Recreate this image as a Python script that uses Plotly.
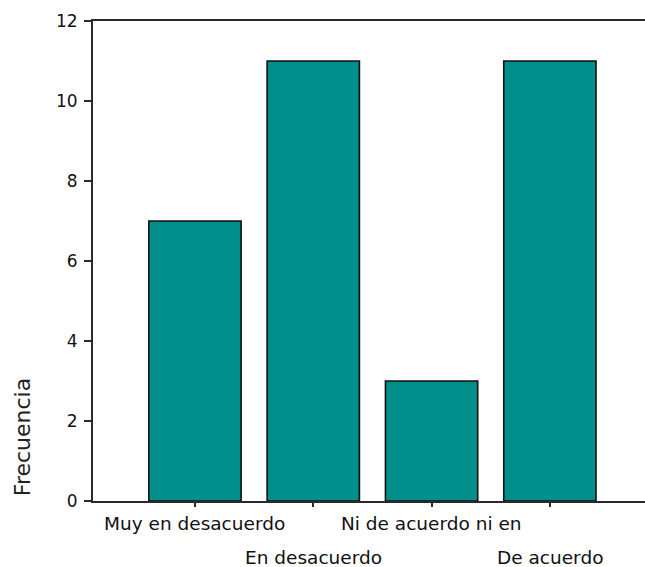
import plotly.graph_objects as go

categories = ["Muy en desacuerdo", "En desacuerdo", "Ni de acuerdo ni en", "De acuerdo"]
frecuencia = [7, 11, 3, 11]
label_rows = [0, 1, 0, 1]
y_ticks = [0, 2, 4, 6, 8, 10, 12]

BAR_COLOR = "#008f8b"
LINE_COLOR = "#2a2a2a"

fig = go.Figure()
fig.add_trace(go.Bar(
    x=categories,
    y=frecuencia,
    marker=dict(color=BAR_COLOR, line=dict(color="#111111", width=1.6)),
    hoverinfo="x+y",
))

row_shift = {0: -22, 1: -56}
for cat, row in zip(categories, label_rows):
    fig.add_annotation(
        x=cat, xref="x", y=0, yref="paper",
        text=cat, showarrow=False,
        xanchor="center", yanchor="middle",
        yshift=row_shift[row],
        font=dict(family="DejaVu Sans", size=18.5, color="#111111"),
    )

fig.add_annotation(
    x=0, xref="paper", y=0.133, yref="paper",
    text="Frecuencia", showarrow=False, textangle=-90,
    xanchor="center", yanchor="middle", xshift=-71,
    font=dict(family="DejaVu Sans", size=22, color="#222222"),
)

fig.update_layout(
    width=645, height=567,
    margin=dict(l=93, r=0, t=21, b=66),
    paper_bgcolor="white", plot_bgcolor="white",
    bargap=0.22,
    showlegend=False,
    xaxis=dict(
        type="category",
        range=[-0.862, 3.804],
        showline=True, linecolor=LINE_COLOR, linewidth=2,
        mirror=True,
        ticks="outside", ticklen=4, tickcolor=LINE_COLOR, tickwidth=1.5,
        showticklabels=False,
        showgrid=False, zeroline=False,
    ),
    yaxis=dict(
        range=[0, 12],
        tickvals=y_ticks,
        ticktext=[str(v) for v in y_ticks],
        showline=True, linecolor=LINE_COLOR, linewidth=2,
        ticks="outside", ticklen=7, tickcolor=LINE_COLOR, tickwidth=1.5,
        ticklabelstandoff=3,
        tickfont=dict(family="DejaVu Sans", size=17, color="#111111"),
        showgrid=False, zeroline=False,
    ),
)

fig.write_html(
    "out.html",
    config={"displayModeBar": False},
    post_script="document.body.style.margin='0';document.body.style.overflow='hidden';",
)
